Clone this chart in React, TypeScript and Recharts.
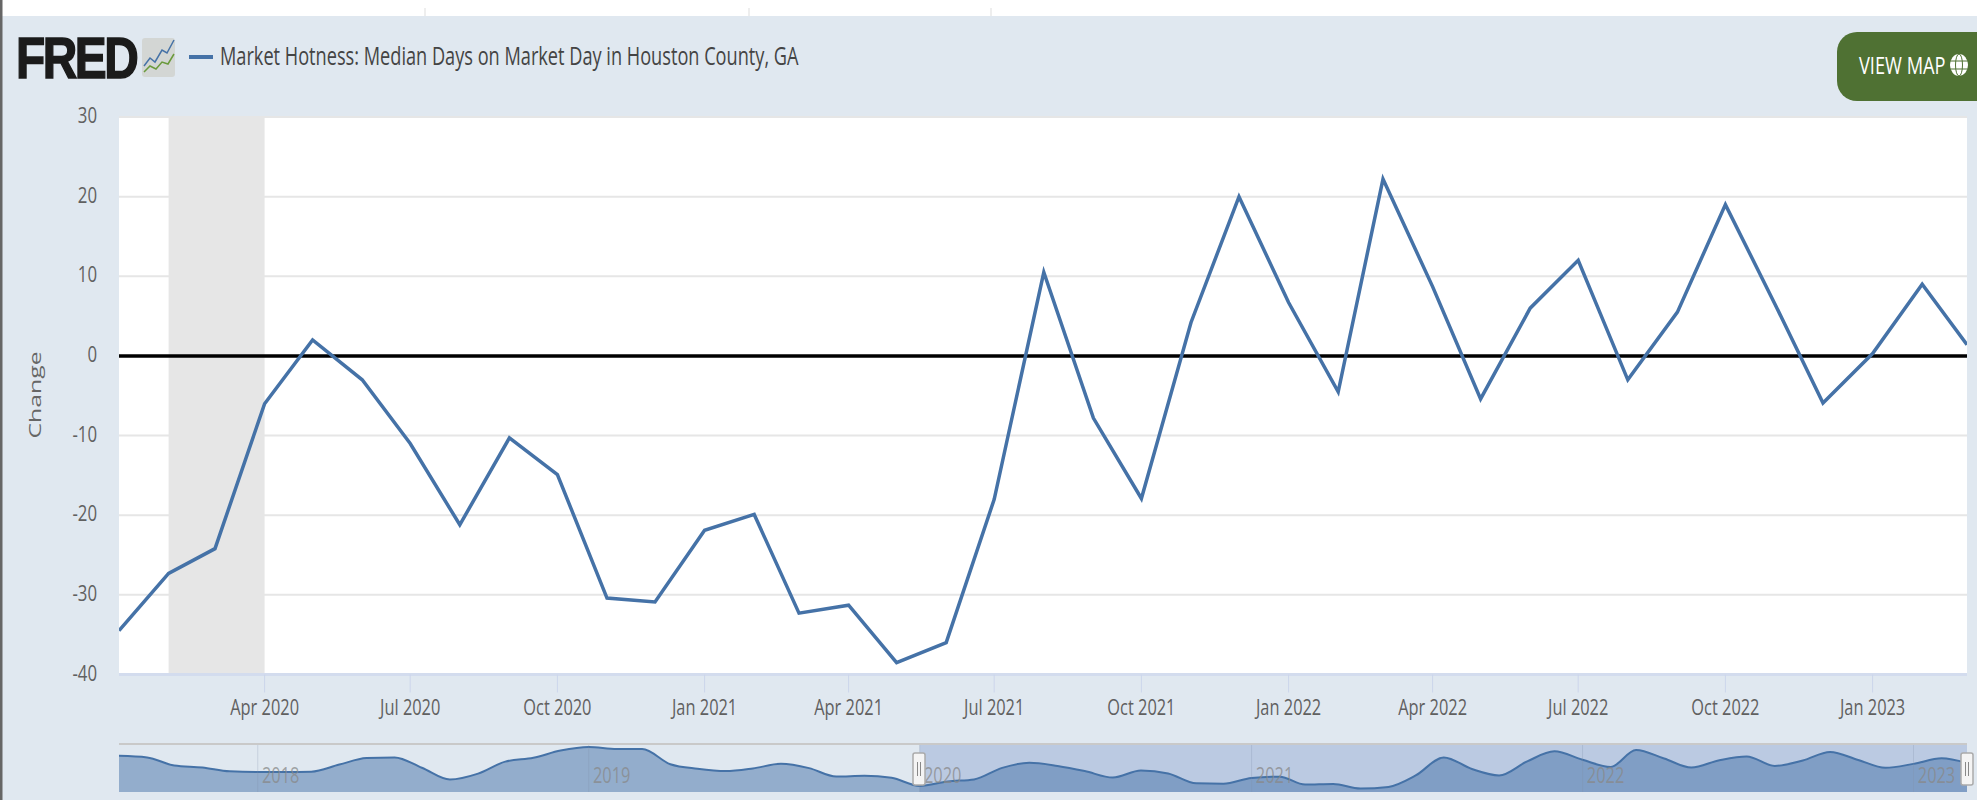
import React from "react";
import {
  Area,
  AreaChart,
  CartesianGrid,
  ComposedChart,
  Legend,
  Line,
  ReferenceArea,
  ReferenceLine,
  XAxis,
  YAxis,
} from "recharts";

const seriesName = "Market Hotness: Median Days on Market Day in Houston County, GA";

// Monthly values, Jan 2020 to Mar 2023
const mainValues = [
  -34.5, -27.3, -24.2, -6, 2, -3, -11, -21.2, -10.3, -14.9, -30.4, -30.9,
  -21.9, -19.9, -32.3, -31.3, -38.5, -36, -18, 10.5, -7.8, -17.9, 4.2, 20,
  6.7, -4.5, 22.2, 8.7, -5.4, 6, 12, -3, 5.5, 19, 6.5, -5.9,
  0.3, 9, 1.4,
];
// Monthly values shown only in the navigator, Aug 2017 to Dec 2019
const earlierValues = [
  13, 10.5, -2.3, -5.4, -11.5,
  -12.5, -12.5, -12, -0.8, 9.4, 10.5, -5.9, -24.3, -15.1, 3.8, 9.9, 21.2,
  26.8, 23.7, 23.7, -0.2, -7.4, -11, -6.9, 0.3, -6.4, -19.7, -18.6, -21.7,
];
const yTicks = [-40, -30, -20, -10, 0, 10, 20, 30];
const xTickMonths: [number, number][] = [
  [2020, 3], [2020, 6], [2020, 9], [2021, 0], [2021, 3], [2021, 6], [2021, 9],
  [2022, 0], [2022, 3], [2022, 6], [2022, 9], [2023, 0],
];
const navYears = [2018, 2019, 2020, 2021, 2022, 2023];
const monthNames = ["Jan", "Feb", "Mar", "Apr", "May", "Jun", "Jul", "Aug", "Sep", "Oct", "Nov", "Dec"];

const mainData = mainValues.map((value, i) => ({ t: Date.UTC(2020, i, 1), value }));
const navData = [...earlierValues, ...mainValues].map((value, i) => ({ t: Date.UTC(2017, 7 + i, 1), value }));
const xTicks = xTickMonths.map(([y, m]) => Date.UTC(y, m, 1));
const navTicks = navYears.map((y) => Date.UTC(y, 0, 1));
const recessionStart = Date.UTC(2020, 1, 1);
const recessionEnd = Date.UTC(2020, 3, 1);
const selStart = Date.UTC(2020, 0, 1);
const selEnd = Date.UTC(2023, 2, 1);

const FONT = '"Open Sans", sans-serif';
const BG = "#e0e8f0";
const LINE = "#4572a7";

function XTick({ x, y, payload }: any) {
  const d = new Date(payload.value);
  return (
    <text
      transform={`translate(${x},${y}) scale(0.78,1)`}
      y={0}
      dy={22}
      textAnchor="middle"
      fontFamily={FONT}
      fontSize={21}
      fill="#606060"
    >
      {`${monthNames[d.getUTCMonth()]} ${d.getUTCFullYear()}`}
    </text>
  );
}

function YTick({ x, y, payload }: any) {
  return (
    <text
      transform={`translate(${x},${y}) scale(0.8,1)`}
      dy={6}
      textAnchor="end"
      fontFamily={FONT}
      fontSize={21}
      fill="#606060"
    >
      {payload.value}
    </text>
  );
}

function NavTick({ x, y, payload }: any) {
  const d = new Date(payload.value);
  return (
    <g>
      <line x1={x} x2={x} y1={y - 48} y2={y} stroke="#7f8fa8" strokeOpacity={0.25} />
      <text
        transform={`translate(${x + 23},${y - 9}) scale(0.78,1)`}
        textAnchor="middle"
        fontFamily={FONT}
        fontSize={21}
        fill="#888"
        fillOpacity={0.75}
      >
        {d.getUTCFullYear()}
      </text>
    </g>
  );
}

function YLabel() {
  return (
    <text
      transform="translate(41,395) rotate(-90) scale(1.6,1)"
      textAnchor="middle"
      fontFamily={FONT}
      fontSize={15.5}
      fill="#666"
    >
      Change
    </text>
  );
}

function LegendContent() {
  return (
    <svg width={700} height={44} style={{ display: "block" }}>
      <line x1={4} x2={28} y1={21} y2={21} stroke={LINE} strokeWidth={4} />
      <text
        transform="translate(35,29) scale(0.727,1)"
        fontFamily={FONT}
        fontSize={25}
        fill="#444"
      >
        {seriesName}
      </text>
    </svg>
  );
}

function Handle({ x }: { x: number }) {
  return (
    <g>
      <rect x={x - 6} y={753} width={12} height={32} rx={2} fill="#f4f4f4" stroke="#aaa" strokeWidth={1.5} />
      <line x1={x - 1.5} x2={x - 1.5} y1={762} y2={776} stroke="#888" />
      <line x1={x + 1.5} x2={x + 1.5} y1={762} y2={776} stroke="#888" />
    </g>
  );
}

function Decor() {
  return (
    <svg
      width={1977}
      height={800}
      style={{ position: "absolute", left: 0, top: 0, pointerEvents: "none" }}
    >
      <rect x={0} y={0} width={2.5} height={800} fill="#666" />
      <line x1={425} x2={425} y1={8} y2={16} stroke="#ddd" />
      <line x1={749} x2={749} y1={8} y2={16} stroke="#ddd" />
      <line x1={991} x2={991} y1={8} y2={16} stroke="#ddd" />

      <text
        transform="translate(16,78) scale(0.84,1)"
        fontFamily='"Liberation Sans", sans-serif'
        fontWeight={700}
        fontSize={57}
        letterSpacing={-3}
        fill="#1b1b1b"
        stroke="#1b1b1b"
        strokeWidth={1.5}
      >
        FRED
      </text>
      <rect x={142} y={38} width={33} height={39} rx={3} fill="#d3d6d4" />
      <polyline points="144,66 150,58 155,62 162,50 167,53 174,40" fill="none" stroke="#4572a7" strokeWidth={1.5} />
      <polyline points="144,72 150,66 156,69 162,62 168,64 174,54" fill="none" stroke="#6a9a3c" strokeWidth={1.5} />

      <path d="M1977 32 H1857 a20 20 0 0 0 -20 20 V81 a20 20 0 0 0 20 20 H1977 Z" fill="#4f7133" />
      <text
        transform="translate(1859,74) scale(0.76,1)"
        fontFamily={FONT}
        fontSize={24}
        fill="#fff"
      >
        VIEW MAP
      </text>
      <ellipse cx={1959} cy={65} rx={9} ry={11} fill="#fff" />
      <ellipse cx={1959} cy={65} rx={3.5} ry={11} fill="none" stroke="#4f7133" strokeWidth={1} />
      <line x1={1950} x2={1968} y1={61} y2={61} stroke="#4f7133" />
      <line x1={1950} x2={1968} y1={69} y2={69} stroke="#4f7133" />

      <rect x={119} y={743} width={1848} height={2} fill="#c9c9c9" />
      <Handle x={919} />
      <Handle x={1967} />
    </svg>
  );
}

export default function App() {
  return (
    <div style={{ position: "absolute", left: 0, top: 0, width: 1977, height: 800, background: "#fff", overflow: "hidden" }}>
      <div style={{ position: "absolute", left: 0, top: 16, width: 1977, height: 784, background: BG }} />
      <div style={{ position: "absolute", left: 0, top: 0 }}>
        <ComposedChart
          width={1977}
          height={800}
          data={mainData}
          margin={{ top: 117, right: 10, bottom: 0, left: 0 }}
        >
          <CartesianGrid horizontal vertical={false} stroke="#e6e6e6" strokeWidth={2} fill="#ffffff" fillOpacity={1} />
          <XAxis
            dataKey="t"
            type="number"
            scale="time"
            domain={[selStart, selEnd]}
            ticks={xTicks}
            height={125.5}
            tick={<XTick />}
            tickSize={18}
            tickMargin={0}
            interval={0}
            axisLine={{ stroke: "#d3dcee", strokeWidth: 3 }}
            tickLine={{ stroke: "#ccd6eb" }}
            allowDataOverflow
          />
          <YAxis
            domain={[-40, 30]}
            ticks={yTicks}
            width={119}
            axisLine={false}
            tickLine={false}
            tickSize={0}
            tickMargin={22}
            tick={<YTick />}
            interval={0}
            label={<YLabel />}
          />
          <ReferenceArea x1={recessionStart} x2={recessionEnd} fill="#e6e6e6" fillOpacity={1} stroke="none" />
          <ReferenceLine y={0} stroke="#000" strokeWidth={3.5} />
          <Line
            dataKey="value"
            name={seriesName}
            type="linear"
            stroke={LINE}
            strokeWidth={3.5}
            dot={false}
            isAnimationActive={false}
          />
          <Legend
            layout="horizontal"
            verticalAlign="middle"
            align="center"
            content={<LegendContent />}
            wrapperStyle={{ position: "absolute", left: 185, top: 36, width: 700, height: 44 }}
          />
        </ComposedChart>
      </div>
      <div style={{ position: "absolute", left: 119, top: 745 }}>
        <AreaChart width={1848} height={48} data={navData} margin={{ top: 0, right: 0, bottom: 0, left: 0 }}>
          <XAxis
            dataKey="t"
            type="number"
            scale="time"
            domain={[navData[0].t, selEnd]}
            ticks={navTicks}
            height={1}
            axisLine={false}
            tickLine={false}
            tickSize={0}
            tickMargin={0}
            interval={0}
            tick={<NavTick />}
          />
          <YAxis hide domain={[-44, 30]} />
          <ReferenceArea x1={selStart} x2={selEnd} fill="#6685c2" fillOpacity={0.3} stroke="none" />
          <Area
            dataKey="value"
            type="monotone"
            stroke={LINE}
            strokeWidth={2}
            fill={LINE}
            fillOpacity={0.5}
            baseValue={-44}
            isAnimationActive={false}
          />
        </AreaChart>
      </div>
      <Decor />
    </div>
  );
}
